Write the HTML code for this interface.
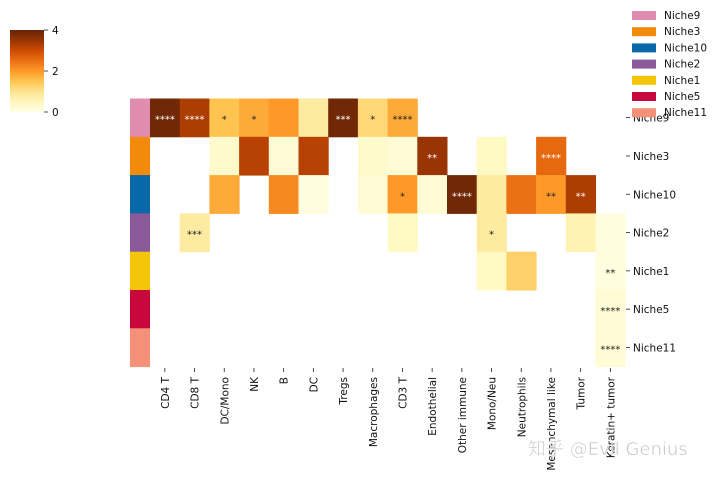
<!DOCTYPE html>
<html><head><meta charset="utf-8"><style>
body{margin:0;background:#fff}
svg{display:block;font-family:"DejaVu Sans","Liberation Sans","Noto Sans CJK SC",sans-serif}
</style></head><body>
<svg id="c" width="720" height="477"></svg>
<script>
const cols=["CD4 T","CD8 T","DC/Mono","NK","B","DC","Tregs","Macrophages","CD3 T","Endothelial","Other immune","Mono/Neu","Neutrophils","Mesenchymal like","Tumor","Keratin+ tumor"];
const rows=["Niche9","Niche3","Niche10","Niche2","Niche1","Niche5","Niche11"];
const rowColors=["#e08cae","#f28b0c","#0868a8","#8a5a9a","#f4c50a","#c8083c","#f59178"];
const values=[
[3.9,3.3,1.5,1.8,2.0,0.8,3.9,1.2,1.8,null,null,null,null,null,null,null],
[null,null,0.3,3.2,0.2,3.2,null,0.3,0.2,3.5,null,0.4,null,2.6,null,null],
[null,null,1.8,null,2.2,0.1,null,0.2,2.0,0.2,3.9,0.8,2.5,2.0,3.3,null],
[null,0.8,null,null,null,null,null,null,0.4,null,null,0.8,null,null,0.6,0.1],
[null,null,null,null,null,null,null,null,null,null,null,0.4,1.3,null,null,0.1],
[null,null,null,null,null,null,null,null,null,null,null,null,null,null,null,0.2],
[null,null,null,null,null,null,null,null,null,null,null,null,null,null,null,0.2]];
const stars=[
["****","****","*","*","","","***","*","****","","","","","","",""],
["","","","","","","","","","**","","","","****","",""],
["","","","","","","","","*","","****","","","**","**",""],
["","***","","","","","","","","","","*","","","",""],
["","","","","","","","","","","","","","","","**"],
["","","","","","","","","","","","","","","","****"],
["","","","","","","","","","","","","","","","****"]];
const cbTicks=[0,2,4];
const NS="http://www.w3.org/2000/svg",svg=document.getElementById("c");
function el(t,a,p){const e=document.createElementNS(NS,t);for(const k in a)e.setAttribute(k,a[k]);(p||svg).appendChild(e);return e;}
const X0=150,CW=29.7,Y0=98.5,RH=38.3,VMAX=4;
const xs=i=>X0+i*CW, ys=j=>Y0+j*RH;
const stops=["#ffffe5","#fff7bc","#fee391","#fec44f","#fe9929","#ec7014","#cc4c02","#993404","#662506"];
function hx(h){return [1,3,5].map(i=>parseInt(h.substr(i,2),16));}
function cmap(v){let t=Math.max(0,Math.min(1,v/VMAX))*8;let i=Math.min(7,Math.floor(t)),f=t-i;const a=hx(stops[i]),b=hx(stops[i+1]);return "rgb("+a.map((c,k)=>Math.round(c+(b[k]-c)*f)).join(",")+")";}
rows.forEach((r,j)=>{const e=el("rect",{x:130,y:ys(j),width:20,height:RH+0.5,fill:rowColors[j]});

});
values.forEach((row,j)=>row.forEach((v,i)=>{
 if(v===null)return;
 const e=el("rect",{x:xs(i),y:ys(j),width:CW+0.5,height:RH+0.5,fill:cmap(v)});
 
 
 const s=stars[j][i];
 if(s){const t=el("text",{x:xs(i)+CW/2,y:ys(j)+RH/2+5,"text-anchor":"middle","font-size":"10",fill:v>2.4?"#fff":"#222"});t.textContent=s;
 
 }
}));
cols.forEach((c,i)=>{const x=xs(i)+CW/2;
 el("line",{x1:x,x2:x,y1:368,y2:372,stroke:"#222","stroke-width":0.8});
 const t=el("text",{transform:`translate(${x+4},377) rotate(-90)`,"text-anchor":"end","font-size":"10.5",fill:"#111"});t.textContent=c;
 
 });
rows.forEach((r,j)=>{const y=ys(j)+RH/2;
 el("line",{x1:626,x2:630,y1:y,y2:y,stroke:"#222","stroke-width":0.8});
 const t=el("text",{x:633,y:y+4,"font-size":"10.5",fill:"#111"});t.textContent=r;
 
 });
const g=el("defs",{});const lg=el("linearGradient",{id:"cb",x1:0,y1:1,x2:0,y2:0},g);
stops.forEach((s,k)=>el("stop",{offset:k/8,"stop-color":s},lg));
const cb=el("rect",{x:10,y:30,width:34,height:82,fill:"url(#cb)"});


cbTicks.forEach(v=>{const y=112-v/VMAX*82;el("line",{x1:44,x2:48,y1:y,y2:y,stroke:"#222","stroke-width":0.8});
 const t=el("text",{x:52,y:y+4,"font-size":"10.5",fill:"#111"});t.textContent=v;
 
 });
rows.forEach((r,j)=>{const y=15+j*16.2;
 const p=el("rect",{x:632,y:y-4,width:24,height:9,fill:rowColors[j]});
 
 
 const t=el("text",{x:664,y:y+4,"font-size":"10.5",fill:"#111"});t.textContent=r;
 
 });
const w=el("text",{x:528,y:455,"font-size":"18",fill:"#c8c8c8",stroke:"#fff","stroke-width":0.5});w.textContent="知乎 @Evil Genius";


</script>
</body></html>
